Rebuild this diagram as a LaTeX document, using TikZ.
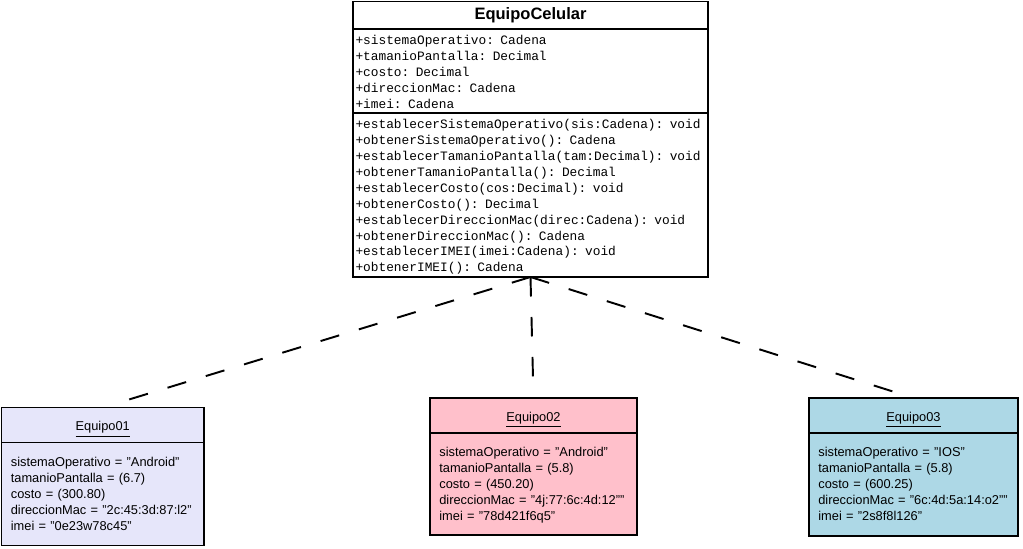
\documentclass[tikz,border=0pt]{standalone}
\usepackage{fontspec}
\setmainfont{Liberation Sans}
\setmonofont{Liberation Mono}
\usetikzlibrary{positioning}
\definecolor{lavanda}{RGB}{230,230,250}
\definecolor{rosa}{RGB}{255,192,203}
\definecolor{celeste}{RGB}{173,216,230}
\tikzset{
  clase/.style={draw=black,line width=1.1pt,fill=white,minimum width=7.1cm,outer sep=0pt,inner ysep=0pt},
  clasenom/.style={clase,minimum height=0.55cm,font=\fontsize{9.4}{11}\selectfont\bfseries},
  clasesec/.style={clase,inner xsep=0.05cm,text width=7cm,align=left,font=\fontsize{7.3}{9.07}\selectfont\ttfamily,execute at begin node={\rule{0pt}{8.6pt}},execute at end node=\strut},
  objnom/.style={draw=black,line width=1.1pt,outer sep=0pt,minimum height=0.7cm,text height=6.8pt,text depth=0pt,font=\fontsize{7.3}{9.07}\selectfont},
  objcuerpo/.style={draw=black,line width=1.1pt,outer sep=0pt,minimum height=2.06cm},
  objtexto/.style={inner sep=0pt,text width=4cm,align=left,yshift=-0.02cm,font=\fontsize{7.3}{9.07}\selectfont,execute at begin node=\strut,execute at end node=\strut},
  realiza/.style={draw=black,line width=1.1pt,dash pattern=on 0.39cm off 0.41cm,shorten >=0.2cm}
}
\begin{document}
\begin{tikzpicture}
\useasboundingbox (0,0) rectangle (20.46,-10.96);
\node[clasenom,anchor=north west] (celular) at (7.06,-0.03) {EquipoCelular};
\node[clasesec,minimum height=1.68cm,below=0pt of celular] (atrib) {+sistemaOperativo: Cadena\\+tamanioPantalla: Decimal\\+costo: Decimal\\+direccionMac: Cadena\\+imei: Cadena};
\node[clasesec,minimum height=3.28cm,below=0pt of atrib] (metod) {+establecerSistemaOperativo(sis:Cadena): void\\+obtenerSistemaOperativo(): Cadena\\+establecerTamanioPantalla(tam:Decimal): void\\+obtenerTamanioPantalla(): Decimal\\+establecerCosto(cos:Decimal): void\\+obtenerCosto(): Decimal\\+establecerDireccionMac(direc:Cadena): void\\+obtenerDireccionMac(): Cadena\\+establecerIMEI(imei:Cadena): void\\+obtenerIMEI(): Cadena};

\node[objnom,fill=lavanda,minimum width=4.05cm,anchor=north west] (eq1) at (0.03,-8.15) {\underline{Equipo01}};
\node[objcuerpo,fill=lavanda,minimum width=4.05cm,below=0pt of eq1] (eq1c) {};
\node[objtexto,right=0.18cm of eq1c.west] (eq1t) {sistemaOperativo = "Android"\\tamanioPantalla = (6.7)\\costo = (300.80)\\direccionMac = "2c:45:3d:87:l2"\\imei = "0e23w78c45"};

\node[objnom,fill=rosa,minimum width=4.14cm,anchor=north west] (eq2) at (8.6,-7.96) {\underline{Equipo02}};
\node[objcuerpo,fill=rosa,minimum width=4.14cm,minimum height=2.04cm,below=0pt of eq2] (eq2c) {};
\node[objtexto,right=0.18cm of eq2c.west] (eq2t) {sistemaOperativo = "Android"\\tamanioPantalla = (5.8)\\costo = (450.20)\\direccionMac = "4j:77:6c:4d:12""\\imei = "78d421f6q5"};

\node[objnom,fill=celeste,minimum width=4.18cm,anchor=north west] (eq3) at (16.18,-7.96) {\underline{Equipo03}};
\node[objcuerpo,fill=celeste,minimum width=4.18cm,below=0pt of eq3] (eq3c) {};
\node[objtexto,right=0.18cm of eq3c.west] (eq3t) {sistemaOperativo = "IOS"\\tamanioPantalla = (5.8)\\costo = (600.25)\\direccionMac = "6c:4d:5a:14:o2""\\imei = "2s8f8l126"};

\draw[realiza] (metod.south) -- (eq1.north);
\draw[realiza] (metod.south) -- (eq2.north);
\draw[realiza] (metod.south) -- (eq3.north);
\end{tikzpicture}
\end{document}
